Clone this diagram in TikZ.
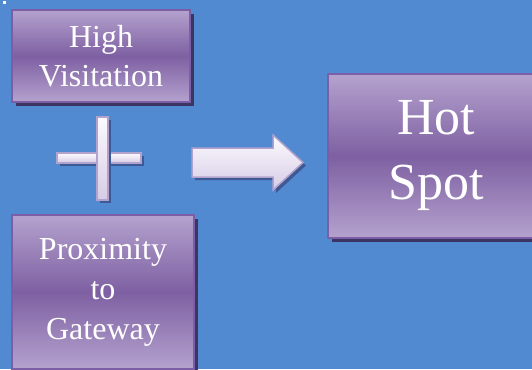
\documentclass[tikz,border=0pt]{standalone}
\usepackage{fontspec}
\setmainfont{Liberation Serif}
\usetikzlibrary{shadows}

\definecolor{slideblue}{RGB}{82,138,210}
\definecolor{boxlight}{RGB}{180,162,206}
\definecolor{boxdark}{RGB}{126,96,162}
\definecolor{boxline}{RGB}{124,94,166}
\definecolor{boxshadow}{RGB}{60,52,98}
\definecolor{barlight}{RGB}{252,250,254}
\definecolor{barbottom}{RGB}{214,204,230}
\definecolor{barline}{RGB}{178,162,206}
\definecolor{barshadow}{RGB}{62,90,150}

\tikzset{
  purplebox/.style={rectangle, draw=boxline, line width=1.5pt,
    top color=boxlight, bottom color=boxlight, middle color=boxdark,
    text=white, align=center, inner sep=0pt,
    drop shadow={fill=boxshadow, opacity=1, shadow xshift=4pt, shadow yshift=-4pt}},
  whitebar/.style={draw=barline, line width=1.5pt,
    top color=barlight, bottom color=barbottom,
    drop shadow={fill=barshadow, opacity=1, shadow xshift=3pt, shadow yshift=-3pt}}
}

\begin{document}
\begin{tikzpicture}[x=1pt, y=-1pt]
  \useasboundingbox (0,0) rectangle (532,369);
  \clip (0,0) rectangle (532,369);
  \fill[slideblue] (0,0) rectangle (532,369);
  \fill[white] (3,1) rectangle (6,4);

  % the two inputs
  \node[purplebox, minimum width=178pt, minimum height=92pt,
    font=\fontsize{32}{39}\selectfont] (visit) at (101,56) {High\\Visitation};
  \node[purplebox, minimum width=182pt, minimum height=154pt,
    font=\fontsize{32}{40}\selectfont] (prox) at (103,292) {Proximity\\to\\Gateway};

  % plus sign
  \node[whitebar, rectangle, inner sep=0pt, minimum width=84pt, minimum height=10pt] (hbar) at (99,158) {};
  \node[whitebar, rectangle, inner sep=0pt, minimum width=11pt, minimum height=83pt] (vbar) at (102.5,158.5) {};

  % block arrow
  \shade[whitebar] (192,148) -- (273,148) -- (273,135) -- (303,162.5)
    -- (273,190) -- (273,177) -- (192,177) -- cycle;

  % result
  \node[purplebox, minimum width=216pt, minimum height=164pt,
    font=\fontsize{52}{65}\selectfont] (hot) at (436,156) {Hot\\Spot};
\end{tikzpicture}
\end{document}
